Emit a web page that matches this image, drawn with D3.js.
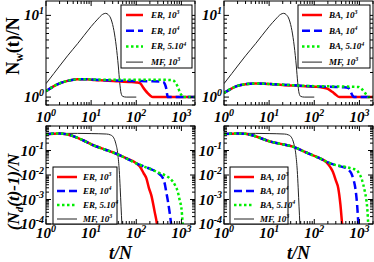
<!DOCTYPE html>
<html lang="en">
<head>
<meta charset="UTF-8">
<script src="https://cdn.jsdelivr.net/npm/d3@7"></script>
<style>
body { margin: 0; background: #fff; }
text { font-family: "Liberation Serif", "Times New Roman", serif; font-weight: bold; font-style: italic; }
</style>
</head>
<body>
<svg id="fig" width="374" height="262"></svg>
<script>
// ---- data: [t/N, value] ----
const mfW = [[1,1.46],[1.5,1.95],[2,2.4],[3,3.2],[5,4.5],[7,5.7],[10,7.3],[14,9.0],[18,10.3],[21,10.6],[24,10.2],[28,8.8],[32,6.5],[36,4.2],[40,2.4],[43,1.5],[46,1.12],[50,1.02],[60,1.0],[100,1.0]];
const erW1e3 = [[1,1.18],[1.5,1.36],[2,1.47],[3,1.58],[5,1.65],[8,1.65],[12,1.62],[20,1.6],[40,1.56],[70,1.53],[100,1.51],[119,1.49],[130,1.42],[141,1.32],[160,1.2],[181,1.11],[205,1.04],[233,1.0],[2000,1.0]];
const erW1e4 = [[1,1.18],[1.5,1.36],[2,1.47],[3,1.58],[5,1.65],[8,1.65],[12,1.63],[20,1.61],[50,1.58],[100,1.57],[200,1.56],[390,1.54],[430,1.45],[460,1.28],[480,1.1],[500,1.0],[2000,1.0]];
const erW5e4 = [[1,1.18],[1.5,1.36],[2,1.47],[3,1.58],[5,1.65],[8,1.65],[12,1.64],[30,1.63],[100,1.63],[300,1.63],[646,1.61],[740,1.5],[830,1.34],[920,1.15],[1000,1.06],[1100,1.0],[2000,1.0]];
const baW1e3 = [[1,1.12],[1.5,1.28],[2,1.37],[3,1.44],[5,1.47],[8,1.46],[12,1.44],[20,1.41],[50,1.37],[100,1.34],[150,1.31],[200,1.26],[250,1.16],[300,1.07],[360,1.0],[2000,1.0]];
const baW1e4 = [[1,1.12],[1.5,1.28],[2,1.37],[3,1.44],[5,1.47],[8,1.46],[12,1.44],[20,1.42],[50,1.38],[100,1.35],[300,1.33],[450,1.32],[560,1.3],[620,1.2],[700,1.05],[760,1.0],[2000,1.0]];
const baW5e4 = [[1,1.12],[1.5,1.28],[2,1.37],[3,1.44],[5,1.47],[8,1.46],[12,1.44],[20,1.42],[50,1.38],[100,1.36],[300,1.35],[950,1.33],[1100,1.27],[1250,1.18],[1440,1.06],[1600,1.0],[2000,1.0]];

const mfD = [[1,0.47],[2,0.5],[5,0.5],[10,0.49],[22,0.47],[27,0.43],[31,0.35],[35,0.2],[39,0.07],[42,0.015],[44,0.003],[46,0.0005],[48,0.0001],[49,0.00005]];
const erD1e3 = [[1,0.46],[2,0.5],[3,0.45],[5,0.33],[7,0.25],[10,0.18],[20,0.11],[30,0.085],[50,0.056],[100,0.03],[120,0.022],[145,0.012],[167,0.0074],[190,0.003],[215,0.0015],[255,0.00032],[287,0.0001],[300,0.00005]];
const erD1e4 = [[1,0.46],[2,0.5],[3,0.45],[5,0.33],[7,0.25],[10,0.18],[20,0.11],[30,0.085],[50,0.056],[100,0.03],[150,0.022],[233,0.016],[330,0.0107],[390,0.0074],[430,0.0042],[460,0.0021],[500,0.0009],[545,0.00032],[592,0.0001],[620,0.00005]];
const erD5e4 = [[1,0.46],[2,0.5],[3,0.45],[5,0.33],[7,0.25],[10,0.18],[20,0.11],[30,0.085],[50,0.056],[100,0.03],[150,0.022],[233,0.016],[330,0.012],[460,0.0092],[560,0.0072],[646,0.0054],[740,0.0035],[830,0.0021],[920,0.0009],[1000,0.00044],[1070,0.0001],[1100,0.00005]];
const baD1e3 = [[1,0.47],[2,0.5],[3,0.48],[5,0.38],[10,0.24],[20,0.18],[35,0.14],[60,0.09],[100,0.06],[134,0.048],[187,0.033],[230,0.02],[258,0.0137],[300,0.006],[340,0.0029],[380,0.0006],[414,0.0001],[430,0.00005]];
const baD1e4 = [[1,0.47],[2,0.5],[3,0.48],[5,0.38],[10,0.24],[20,0.18],[35,0.14],[60,0.09],[100,0.06],[134,0.048],[187,0.035],[263,0.027],[400,0.022],[515,0.019],[600,0.015],[660,0.0117],[730,0.007],[790,0.0039],[850,0.0015],[890,0.0006],[950,0.0001],[980,0.00005]];
const baD5e4 = [[1,0.47],[2,0.5],[3,0.48],[5,0.38],[10,0.24],[20,0.18],[35,0.14],[60,0.09],[100,0.06],[134,0.048],[187,0.035],[263,0.027],[400,0.023],[515,0.021],[700,0.018],[865,0.016],[1000,0.011],[1110,0.0074],[1220,0.004],[1320,0.0021],[1420,0.001],[1490,0.00045],[1570,0.0001],[1620,0.00005]];

const erLabels = [["ER, 10","3"],["ER, 10","4"],["ER, 5.10","4"],["MF, 10","3"]];
const baLabels = [["BA, 10","3"],["BA, 10","4"],["BA, 5.10","4"],["MF, 10","3"]];
const xTickExps = [0, 1, 2, 3];
const wTickExps = [0, 1];
const dTickExps = [-1, -2, -3, -4];

// ---- styles for the four series (order: 10^3, 10^4, 5.10^4, MF) ----
const styles = [
  { color: "#ff0000", width: 2.5, dash: null },
  { color: "#0000ff", width: 2.5, dash: "8,4" },
  { color: "#00ee00", width: 2.5, dash: "2.5,2.5" },
  { color: "#222", width: 1, dash: null }
];

const svg = d3.select("#fig");

const panels = [
  { left: 46, right: 195, top: 1, bottom: 105, ydom: [0.8, 15], yexps: wTickExps,
    series: [erW1e3, erW1e4, erW5e4, mfW], labels: erLabels,
    leg: { x: 121, y: 5, w: 71, h: 63, step: 15.7, line0: 5, line1: 22, tx: 30 }, xlabY: 122 },
  { left: 224, right: 373, top: 1, bottom: 105, ydom: [0.8, 15], yexps: wTickExps,
    series: [baW1e3, baW1e4, baW5e4, mfW], labels: baLabels,
    leg: { x: 298, y: 5, w: 72, h: 63, step: 15.7, line0: 4, line1: 24, tx: 31 }, xlabY: 122 },
  { left: 46, right: 195, top: 126, bottom: 224, ydom: [1e-4, 1], yexps: dTickExps,
    series: [erD1e3, erD1e4, erD5e4, mfD], labels: erLabels,
    leg: { x: 53, y: 167, w: 64, h: 57, step: 14, line0: 4, line1: 24, tx: 30 }, xlabY: 238 },
  { left: 224, right: 373, top: 126, bottom: 224, ydom: [1e-4, 1], yexps: dTickExps,
    series: [baD1e3, baD1e4, baD5e4, mfD], labels: baLabels,
    leg: { x: 230, y: 167, w: 58, h: 57, step: 14, line0: 4, line1: 24, tx: 30 }, xlabY: 238 }
];

function logTicks(dom) {
  const major = [], minor = [];
  for (let e = -6; e <= 4; e++) {
    for (let k = 1; k <= 9; k++) {
      const v = k * Math.pow(10, e);
      if (v < dom[0] * 0.9999 || v > dom[1] * 1.0001) continue;
      (k === 1 ? major : minor).push(v);
    }
  }
  return { major, minor };
}

function powText(sel, base, exp, size, supSize) {
  sel.append("tspan").attr("font-size", size).text(base);
  sel.append("tspan").attr("font-size", supSize).attr("dy", -size * 0.42).text(exp);
}

panels.forEach((p, i) => {
  const x = d3.scaleLog().domain([1, 2000]).range([p.left, p.right]);
  const y = d3.scaleLog().domain(p.ydom).range([p.bottom, p.top]);
  const g = svg.append("g");

  const clipId = "clip" + i;
  svg.append("clipPath").attr("id", clipId).append("rect")
    .attr("x", p.left).attr("y", p.top)
    .attr("width", p.right - p.left).attr("height", p.bottom - p.top);

  // curves
  const line = d3.line().x(d => x(d[0])).y(d => y(d[1])).curve(d3.curveMonotoneX);
  const curves = g.append("g").attr("clip-path", `url(#${clipId})`);
  [3, 0, 1, 2].forEach(k => {
    curves.append("path")
      .attr("d", line(p.series[k]))
      .attr("fill", "none")
      .attr("stroke", styles[k].color)
      .attr("stroke-width", styles[k].width)
      .attr("stroke-dasharray", styles[k].dash);
  });

  // frame
  g.append("rect").attr("x", p.left).attr("y", p.top)
    .attr("width", p.right - p.left).attr("height", p.bottom - p.top)
    .attr("fill", "none").attr("stroke", "#000").attr("stroke-width", 1);

  // inward ticks on all four sides
  const xt = logTicks([1, 2000]), yt = logTicks(p.ydom);
  const tk = g.append("g").attr("stroke", "#000").attr("stroke-width", 1);
  [[xt.major, 5], [xt.minor, 3]].forEach(([vals, len]) => {
    vals.forEach(v => {
      const px = x(v);
      tk.append("line").attr("x1", px).attr("x2", px).attr("y1", p.bottom).attr("y2", p.bottom - len);
      tk.append("line").attr("x1", px).attr("x2", px).attr("y1", p.top).attr("y2", p.top + len);
    });
  });
  [[yt.major, 5], [yt.minor, 3]].forEach(([vals, len]) => {
    vals.forEach(v => {
      const py = y(v);
      tk.append("line").attr("y1", py).attr("y2", py).attr("x1", p.left).attr("x2", p.left + len);
      tk.append("line").attr("y1", py).attr("y2", py).attr("x1", p.right).attr("x2", p.right - len);
    });
  });

  // tick labels
  xTickExps.forEach(e => {
    const t = g.append("text").attr("x", x(Math.pow(10, e))).attr("y", p.xlabY)
      .attr("text-anchor", "middle");
    powText(t, "10", e, 15, 10);
  });
  p.yexps.forEach(e => {
    const t = g.append("text").attr("x", p.left - 2).attr("y", y(Math.pow(10, e)) + 5)
      .attr("text-anchor", "end");
    powText(t, "10", e, 15, 10);
  });

  // legend
  const L = p.leg;
  const lg = g.append("g");
  lg.append("rect").attr("x", L.x).attr("y", L.y).attr("width", L.w).attr("height", L.h)
    .attr("fill", "#fff").attr("stroke", "#000").attr("stroke-width", 1);
  p.labels.forEach((lab, k) => {
    const ry = L.y + 10 + k * L.step;
    lg.append("line").attr("x1", L.x + L.line0).attr("x2", L.x + L.line1)
      .attr("y1", ry).attr("y2", ry)
      .attr("stroke", styles[k].color).attr("stroke-width", styles[k].width)
      .attr("stroke-dasharray", styles[k].dash);
    const t = lg.append("text").attr("x", L.x + L.tx).attr("y", ry + 3);
    powText(t, lab[0], lab[1], 9, 6);
  });
});

// axis titles
const tw = svg.append("text").attr("transform", "translate(19,46) rotate(-90)")
  .attr("text-anchor", "middle").attr("font-size", 18).style("font-style", "normal");
tw.append("tspan").text("N");
tw.append("tspan").attr("font-size", 12).attr("dy", 4).text("w");
tw.append("tspan").attr("dy", -4).text("(t)/N");

const td = svg.append("text").attr("transform", "translate(19,192) rotate(-90)")
  .attr("text-anchor", "middle").attr("font-size", 17);
td.append("tspan").text("(N");
td.append("tspan").attr("font-size", 11).attr("dy", 4).text("d");
td.append("tspan").attr("dy", -4).text("(t)-1)/N");

[[120.5, 259], [298.5, 259]].forEach(([cx, cy]) => {
  svg.append("text").attr("x", cx).attr("y", cy).attr("text-anchor", "middle")
    .attr("font-size", 18).text("t/N");
});
</script>
</body>
</html>
